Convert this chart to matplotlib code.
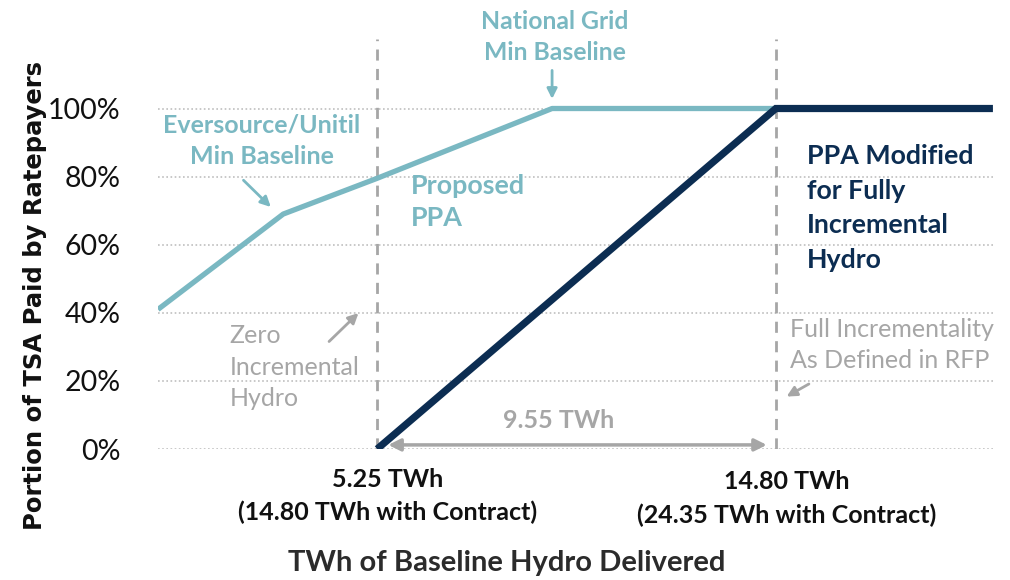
import matplotlib
matplotlib.use("Agg")
import matplotlib.pyplot as plt

# Data
proposed_x = [0.0, 3.0, 5.25, 9.44, 14.80]
proposed_y = [41, 69, 79.5, 100, 100]
modified_x = [5.25, 14.80, 20.0]
modified_y = [0, 100, 100]
yticks = [0, 20, 40, 60, 80, 100]
ytick_labels = ["0%", "20%", "40%", "60%", "80%", "100%"]
zero_incr_x = 5.25
full_incr_x = 14.80

TEAL = "#7ab8c2"
NAVY = "#0c2d52"
GRAY = "#a6a6a6"
FONT = "Lato"

fig = plt.figure(figsize=(10.1, 5.8), dpi=100)
ax = fig.add_axes([158/1010, 131/580, 837/1010, 412/580])
ax.set_xlim(0, 20.05)
ax.set_ylim(0, 121)
for s in ax.spines.values():
    s.set_visible(False)
ax.set_xticks([])
ax.set_yticks(yticks)
ax.set_yticklabels(ytick_labels, fontsize=20.5, family=FONT, color="#111111")
ax.tick_params(axis="y", length=0, pad=27)

for y in yticks:
    ax.axhline(y, color="#bfbfbf", lw=1.2, ls=(0, (1, 1.5)), zorder=1)

for xv in [zero_incr_x, full_incr_x]:
    ax.plot([xv, xv], [0, 120.5], color="#a6a6a6", lw=2, ls=(0, (4, 3)), zorder=2)

ax.plot(proposed_x, proposed_y, color=TEAL, lw=3.8, solid_capstyle="butt", zorder=3)
ax.plot(modified_x, modified_y, color=NAVY, lw=5.2, solid_capstyle="butt",
        solid_joinstyle="miter", zorder=4)

# Annotations
ax.text(9.5, 121, "National Grid\nMin Baseline", color=TEAL, fontsize=17.8, fontweight="bold",
        family=FONT, ha="center", va="center", linespacing=1.45, clip_on=False)
ax.annotate("", xy=(9.44, 102), xytext=(9.44, 112),
            arrowprops=dict(arrowstyle="-|>", color=TEAL, lw=2, mutation_scale=15))

ax.text(2.48, 90.5, "Eversource/Unitil\nMin Baseline", color=TEAL, fontsize=18, fontweight="bold",
        family=FONT, ha="center", va="center", linespacing=1.45)
ax.annotate("", xy=(2.75, 70.5), xytext=(2.0, 79.5),
            arrowprops=dict(arrowstyle="-|>", color=TEAL, lw=2, mutation_scale=15))

ax.text(6.05, 72.5, "Proposed\nPPA", color=TEAL, fontsize=19.4, fontweight="bold",
        family=FONT, ha="left", va="center", linespacing=1.4)

ax.text(15.55, 70.8, "PPA Modified\nfor Fully\nIncremental\nHydro", color=NAVY, fontsize=19.3,
        fontweight="bold", family=FONT, ha="left", va="center", linespacing=1.52)

ax.text(1.72, 24.0, "Zero\nIncremental\nHydro", color=GRAY, fontsize=18,
        family=FONT, ha="left", va="center", linespacing=1.45)
ax.annotate("", xy=(4.85, 40.5), xytext=(4.05, 31),
            arrowprops=dict(arrowstyle="-|>", color=GRAY, lw=2, mutation_scale=15))

ax.text(15.15, 30.5, "Full Incrementality\nAs Defined in RFP", color=GRAY, fontsize=18,
        family=FONT, ha="left", va="center", linespacing=1.45)
ax.annotate("", xy=(15.0, 15), xytext=(15.65, 19.5),
            arrowprops=dict(arrowstyle="-|>", color=GRAY, lw=2, mutation_scale=15))

ax.annotate("", xy=(5.45, 1.2), xytext=(14.65, 1.2),
            arrowprops=dict(arrowstyle="<|-|>", color=GRAY, lw=2.5, mutation_scale=18))
ax.text(9.6, 8.5, "9.55 TWh", color=GRAY, fontsize=18, fontweight="bold",
        family=FONT, ha="center", va="center")

ax.text(5.5, -9, "5.25 TWh", color="#111111", fontsize=18, fontweight="bold",
        family=FONT, ha="center", va="center", clip_on=False)
ax.text(5.5, -18.5, "(14.80 TWh with Contract)", color="#111111", fontsize=18, fontweight="bold",
        family=FONT, ha="center", va="center", clip_on=False)
ax.text(15.07, -9.5, "14.80 TWh", color="#111111", fontsize=18, fontweight="bold",
        family=FONT, ha="center", va="center", clip_on=False)
ax.text(15.07, -19.5, "(24.35 TWh with Contract)", color="#111111", fontsize=18, fontweight="bold",
        family=FONT, ha="center", va="center", clip_on=False)

fig.text(507/1010, 1 - 563/580, "TWh of Baseline Hydro Delivered", color="#2b2b2b",
         fontsize=21, fontweight="bold", family=FONT, ha="center", va="center")
fig.text(35/1010, 1 - 295/580, "Portion of TSA Paid by Ratepayers", color="#111111",
         fontsize=17.5, fontweight="bold", family="DejaVu Sans", ha="center", va="center",
         rotation=90)

fig.savefig("out.png", dpi=100)
